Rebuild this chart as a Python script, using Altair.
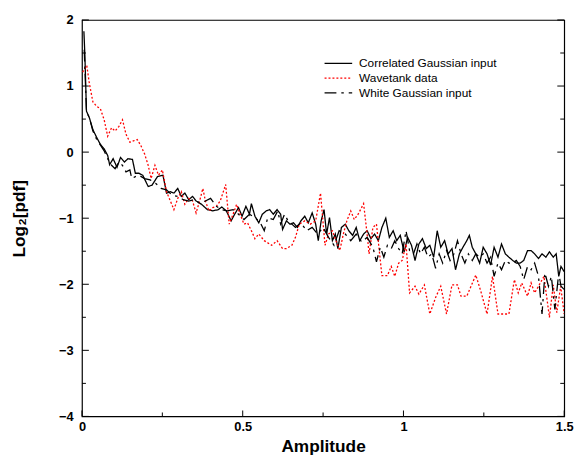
import altair as alt
import pandas as pd

series_names = ["Correlated Gaussian input", "Wavetank data", "White Gaussian input"]

corr_x = [0.006,0.009,0.014,0.023,0.034,0.046,0.057,0.069,0.080,0.086,
          0.097,0.109,0.120,0.132,0.143,0.157,0.166,0.177,0.189,0.206,
          0.218,0.235,0.252,0.263,0.275,0.286,0.298,0.309,0.320,0.332,
          0.344,0.355,0.372,0.390,0.407,0.424,0.435,0.449,0.464,0.475,
          0.487,0.498,0.510,0.521,0.527,0.538,0.550,0.561,0.573,0.584,
          0.595,0.607,0.618,0.624,0.636,0.647,0.658,0.670,0.681,0.693,
          0.704,0.716,0.727,0.735,0.744,0.753,0.761,0.770,0.779,0.788,
          0.796,0.807,0.819,0.830,0.842,0.853,0.864,0.876,0.887,0.899,
          0.910,0.922,0.933,0.945,0.956,0.968,0.979,0.990,1.002,1.013,
          1.025,1.036,1.048,1.059,1.071,1.082,1.094,1.105,1.116,1.128,
          1.139,1.151,1.162,1.174,1.185,1.197,1.205,1.214,1.225,1.237,
          1.248,1.260,1.271,1.282,1.294,1.305,1.317,1.328,1.340,1.351,
          1.363,1.374,1.386,1.397,1.408,1.420,1.431,1.443,1.454,1.466,
          1.475,1.483,1.490,1.500]
corr_y = [1.83,1.48,0.62,0.52,0.34,0.22,0.12,0.05,-0.05,-0.19,
          -0.10,-0.23,-0.08,-0.15,-0.10,-0.11,-0.32,-0.32,-0.35,-0.52,
          -0.50,-0.37,-0.35,-0.62,-0.60,-0.62,-0.55,-0.67,-0.62,-0.72,
          -0.67,-0.74,-0.79,-0.87,-0.89,-0.87,-0.83,-0.89,-1.04,-0.94,
          -0.84,-0.97,-0.82,-0.94,-0.78,-0.97,-1.07,-0.94,-0.89,-0.87,
          -0.94,-0.87,-0.94,-1.17,-1.04,-1.09,-1.07,-1.14,-1.04,-0.97,
          -1.07,-0.92,-1.09,-1.34,-1.04,-0.87,-1.24,-0.99,-1.34,-1.24,
          -1.46,-1.14,-1.09,-1.19,-1.26,-1.14,-1.34,-1.24,-1.19,-1.31,
          -1.24,-1.34,-1.14,-1.00,-1.29,-1.19,-1.34,-1.26,-1.51,-1.29,
          -1.41,-1.64,-1.39,-1.31,-1.46,-1.41,-1.59,-1.19,-1.44,-1.34,
          -1.54,-1.46,-1.78,-1.54,-1.44,-1.34,-1.26,-1.44,-1.54,-1.68,
          -1.44,-1.54,-1.71,-1.44,-1.59,-1.39,-1.54,-1.59,-1.64,-1.68,
          -1.68,-1.64,-1.49,-1.49,-1.54,-1.61,-1.54,-1.59,-1.51,-1.59,
          -1.54,-1.88,-1.73,-1.81]

wave_x = [0.002,0.015,0.023,0.034,0.046,0.057,0.069,0.080,0.092,0.103,
          0.115,0.126,0.137,0.149,0.160,0.172,0.183,0.195,0.206,0.215,
          0.227,0.238,0.250,0.263,0.275,0.286,0.298,0.309,0.320,0.332,
          0.344,0.355,0.366,0.376,0.384,0.395,0.407,0.418,0.430,0.447,
          0.458,0.470,0.481,0.492,0.504,0.515,0.527,0.538,0.550,0.567,
          0.590,0.607,0.624,0.636,0.653,0.664,0.676,0.693,0.710,0.727,
          0.742,0.756,0.767,0.779,0.790,0.802,0.813,0.824,0.836,0.847,
          0.859,0.876,0.887,0.893,0.905,0.916,0.933,0.950,0.962,0.973,
          0.985,0.996,1.008,1.019,1.036,1.048,1.065,1.082,1.100,1.116,
          1.134,1.151,1.168,1.179,1.197,1.225,1.242,1.260,1.277,1.294,
          1.311,1.328,1.345,1.357,1.368,1.386,1.397,1.408,1.420,1.437,
          1.454,1.466,1.477,1.489,1.500]
wave_y = [1.21,1.31,1.04,0.76,0.69,0.66,0.49,0.24,0.37,0.32,
          0.39,0.49,0.27,0.15,0.17,0.19,0.10,-0.03,-0.20,-0.40,
          -0.20,-0.35,-0.27,-0.60,-0.74,-0.87,-0.70,-0.60,-0.79,-0.70,
          -0.74,-0.92,-0.74,-0.55,-0.74,-0.89,-0.84,-0.82,-0.74,-0.49,
          -1.09,-0.94,-0.79,-0.94,-1.09,-1.07,-1.19,-1.31,-1.24,-1.34,
          -1.41,-1.34,-1.46,-1.46,-1.41,-1.29,-1.09,-1.04,-1.09,-1.04,
          -0.62,-1.41,-1.24,-1.19,-1.34,-1.49,-1.24,-1.04,-0.89,-1.02,
          -0.94,-0.78,-1.24,-1.54,-1.14,-1.09,-1.87,-1.87,-1.73,-1.88,
          -1.68,-1.64,-1.39,-2.13,-2.03,-2.15,-2.01,-2.45,-2.20,-2.03,
          -2.45,-2.01,-2.01,-2.18,-2.18,-1.86,-2.13,-2.45,-1.88,-2.45,
          -2.45,-2.45,-1.93,-2.13,-1.98,-2.18,-1.98,-2.13,-2.03,-1.88,
          -2.50,-2.01,-2.43,-2.03,-2.45]

white_x = [0.007,0.014,0.023,0.034,0.046,0.057,0.069,0.080,0.092,0.103,
           0.115,0.126,0.137,0.149,0.155,0.166,0.177,0.195,0.212,0.229,
           0.246,0.263,0.280,0.298,0.315,0.332,0.349,0.366,0.384,0.400,
           0.418,0.435,0.452,0.470,0.487,0.504,0.521,0.538,0.555,0.567,
           0.578,0.595,0.609,0.618,0.630,0.641,0.653,0.664,0.681,0.699,
           0.716,0.733,0.750,0.767,0.784,0.800,0.819,0.836,0.853,0.870,
           0.887,0.905,0.916,0.928,0.939,0.950,0.962,0.973,0.985,0.996,
           1.008,1.019,1.031,1.042,1.053,1.065,1.076,1.088,1.100,1.111,
           1.122,1.134,1.145,1.157,1.168,1.179,1.191,1.202,1.214,1.225,
           1.237,1.248,1.260,1.271,1.282,1.294,1.305,1.317,1.328,1.340,
           1.351,1.363,1.374,1.386,1.397,1.408,1.420,1.431,1.440,1.451,
           1.460,1.471,1.483,1.490,1.500]
white_y = [1.55,0.62,0.52,0.32,0.19,0.11,0.02,-0.10,-0.20,-0.25,
           -0.15,-0.20,-0.30,-0.27,-0.40,-0.37,-0.35,-0.40,-0.42,-0.47,
           -0.55,-0.57,-0.65,-0.67,-0.72,-0.74,-0.72,-0.77,-0.74,-0.70,
           -0.82,-0.87,-0.89,-0.87,-0.94,-1.02,-0.94,-0.99,-1.07,-1.19,
           -0.99,-1.02,-0.89,-1.09,-0.94,-1.04,-1.09,-1.14,-1.07,-1.19,
           -1.14,-1.24,-1.14,-1.29,-1.41,-1.19,-1.24,-1.34,-1.24,-1.36,
           -1.29,-1.44,-1.66,-1.44,-1.59,-1.41,-1.46,-1.34,-1.46,-1.54,
           -1.19,-1.49,-1.54,-1.39,-1.54,-1.44,-1.59,-1.54,-1.76,-1.54,
           -1.68,-1.49,-1.64,-1.54,-1.34,-1.54,-1.68,-1.54,-1.64,-1.54,
           -1.59,-1.54,-1.68,-1.59,-1.88,-1.68,-1.78,-1.64,-1.68,-1.68,
           -1.64,-1.73,-1.93,-1.73,-1.78,-1.68,-1.88,-2.45,-1.83,-2.03,
           -1.88,-2.38,-1.83,-2.03,-2.08]

assert len(corr_x) == len(corr_y), (len(corr_x), len(corr_y))
assert len(wave_x) == len(wave_y), (len(wave_x), len(wave_y))
assert len(white_x) == len(white_y), (len(white_x), len(white_y))

y_major = [-4, -3, -2, -1, 0, 1, 2]
y_minor = [-3.5, -2.5, -1.5, -0.5, 0.5, 1.5]
x_major = [0, 0.5, 1, 1.5]
x_minor = [0.25, 0.75, 1.25]

W, H = 489, 402
FONT = "Liberation Sans"

xscale = alt.Scale(domain=[0, 1.5], nice=False, zero=False)
yscale = alt.Scale(domain=[-4, 2], nice=False, zero=False)

xaxis = alt.Axis(values=x_major, format="~g", ticks=False, domain=False, grid=False,
                 labelFont=FONT, labelFontWeight="bold", labelFontSize=13, labelColor="black",
                 labelPadding=4, labelFlush=False, labelOverlap=False,
                 title="Amplitude", titleFont=FONT, titleFontWeight="bold", titleFontSize=17.5,
                 titleColor="black", titlePadding=5)
yaxis = alt.Axis(values=y_major, format="~g", ticks=False, domain=False, grid=False,
                 labelFont=FONT, labelFontWeight="bold", labelFontSize=13, labelColor="black",
                 labelPadding=9, labelFlush=False, labelOverlap=False,
                 title="Log₂[pdf]", titleFont=FONT, titleFontWeight="bold", titleFontSize=17.5,
                 titleColor="black", titlePadding=30)

styles = [
    ("black", [1, 0], 1.3),
    ("#ff0000", [2, 2], 1.3),
    ("black", [12, 5, 2.5, 5], 1.3),
]
data = [(corr_x, corr_y), (wave_x, wave_y), (white_x, white_y)]

layers = []
for i, (name, (xs, ys), (col, dash, sw)) in enumerate(zip(series_names, data, styles)):
    d = pd.DataFrame({"x": xs, "y": ys, "series": name})
    layers.append(
        alt.Chart(d).mark_line(color=col, strokeDash=dash, strokeWidth=sw, clip=True).encode(
            x=alt.X("x:Q", scale=xscale, axis=xaxis),
            y=alt.Y("y:Q", scale=yscale, axis=yaxis),
        )
    )

def yticks(vals, x0, x1):
    return alt.Chart(pd.DataFrame({"y": vals})).mark_rule(color="black", strokeWidth=1).encode(
        y=alt.Y("y:Q", scale=yscale, axis=yaxis), x=alt.value(x0), x2=alt.value(x1))

def xticks(vals, y0, y1):
    return alt.Chart(pd.DataFrame({"x": vals})).mark_rule(color="black", strokeWidth=1).encode(
        x=alt.X("x:Q", scale=xscale, axis=xaxis), y=alt.value(y0), y2=alt.value(y1))

tick_layers = [
    yticks(y_major, 0, 7), yticks(y_minor, 0, 4),
    yticks(y_major, W - 7, W), yticks(y_minor, W - 4, W),
    xticks(x_major, H - 6, H), xticks(x_minor, H - 4, H),
]

legend_layers = []
for i, (name, (col, dash, sw)) in enumerate(zip(series_names, styles)):
    ly = 44 + 15 * i
    ld = pd.DataFrame({"name": [name]})
    legend_layers.append(
        alt.Chart(ld).mark_rule(color=col, strokeDash=dash, strokeWidth=sw).encode(
            x=alt.value(246), x2=alt.value(274), y=alt.value(ly)))
    legend_layers.append(
        alt.Chart(ld).mark_text(align="left", baseline="middle", font=FONT, fontSize=12,
                                color="black").encode(
            x=alt.value(281), y=alt.value(ly), text="name:N"))

chart = alt.layer(*layers, *tick_layers, *legend_layers).properties(
    width=W, height=H,
    autosize=alt.AutoSizeParams(type="none"),
    padding={"left": 75, "top": 9, "right": 15, "bottom": 37},
    background="white",
).configure_view(stroke="black", strokeWidth=1.2)

chart.save("out.html", embed_options={"renderer": "svg", "actions": False})
